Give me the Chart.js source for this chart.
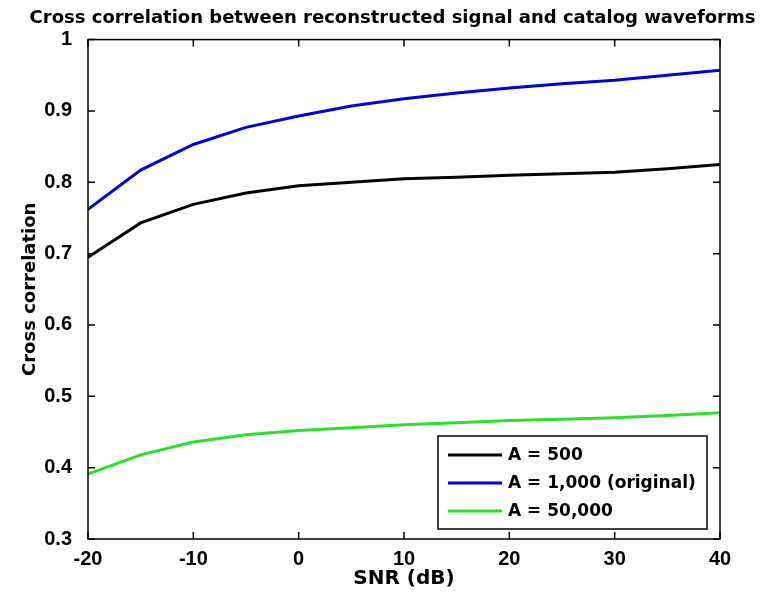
<!DOCTYPE html>
<html>
<head>
<meta charset="utf-8">
<script src="https://cdn.jsdelivr.net/npm/chart.js@4"></script>
<style>
  html, body { margin: 0; padding: 0; background: #fff; }
  #wrap { width: 777px; height: 594px; }
</style>
</head>
<body>
<div id="wrap"><canvas id="line-chart"></canvas></div>
<script>
// SNR values (x axis, dB)
const snr = [-20, -15, -10, -5, 0, 5, 10, 15, 20, 25, 30, 35, 40];

// cross correlation
const a500   = [0.695, 0.743, 0.769, 0.785, 0.795, 0.800, 0.805, 0.807, 0.810, 0.812, 0.814, 0.819, 0.825];
const a1000  = [0.762, 0.817, 0.853, 0.877, 0.893, 0.907, 0.917, 0.925, 0.932, 0.938, 0.943, 0.950, 0.957];
const a50000 = [0.391, 0.418, 0.436, 0.446, 0.452, 0.456, 0.460, 0.463, 0.466, 0.468, 0.470, 0.473, 0.477];

const seriesNames = ['A = 500', 'A = 1,000 (original)', 'A = 50,000'];

const xTicks = [-20, -10, 0, 10, 20, 30, 40];
const yTicks = [0.3, 0.4, 0.5, 0.6, 0.7, 0.8, 0.9, 1];

function pts(ys) {
    return snr.map((x, i) => ({ x: x, y: ys[i] }));
}

// box around plot + inward ticks on all four sides (matlab look)
const boxPlugin = {
    id: 'boxTicks',
    afterDatasetsDraw(chart) {
        const ctx = chart.ctx;
        const a = chart.chartArea;
        const xs = chart.scales.x, ys = chart.scales.y;
        const len = 7;
        ctx.save();
        ctx.strokeStyle = '#000';
        ctx.lineWidth = 1.5;
        ctx.strokeRect(a.left, a.top, a.right - a.left, a.bottom - a.top);
        ctx.beginPath();
        xTicks.forEach(v => {
            const px = xs.getPixelForValue(v);
            ctx.moveTo(px, a.bottom); ctx.lineTo(px, a.bottom - len);
            ctx.moveTo(px, a.top); ctx.lineTo(px, a.top + len);
        });
        yTicks.forEach(v => {
            const py = ys.getPixelForValue(v);
            ctx.moveTo(a.left, py); ctx.lineTo(a.left + len, py);
            ctx.moveTo(a.right, py); ctx.lineTo(a.right - len, py);
        });
        ctx.stroke();
        ctx.restore();
    }
};

// legend box in lower right corner of the plot
const boxLegend = {
    id: 'boxLegend',
    afterDraw(chart) {
        const ctx = chart.ctx;
        const a = chart.chartArea;
        const w = 269, h = 93;
        const x0 = a.right - 13 - w, y0 = a.bottom - 10 - h;
        ctx.save();
        ctx.fillStyle = '#fff';
        ctx.fillRect(x0, y0, w, h);
        ctx.strokeStyle = '#000';
        ctx.lineWidth = 1.5;
        ctx.strokeRect(x0, y0, w, h);
        ctx.font = 'bold 17px "DejaVu Sans"';
        ctx.textBaseline = 'middle';
        chart.data.datasets.forEach((ds, i) => {
            const cy = y0 + 19 + i * 28;
            ctx.strokeStyle = ds.borderColor;
            ctx.lineWidth = 3;
            ctx.beginPath();
            ctx.moveTo(x0 + 10, cy);
            ctx.lineTo(x0 + 64, cy);
            ctx.stroke();
            ctx.fillStyle = '#000';
            ctx.fillText(ds.label, x0 + 70, cy + 1);
        });
        ctx.restore();
    }
};

const tickFont = { family: '"Liberation Sans", Arial, sans-serif', size: 20, weight: 'bold' };

new Chart(document.getElementById('line-chart'), {
    type: 'line',
    data: {
        datasets: [
            { label: seriesNames[0], data: pts(a500),   borderColor: '#000000' },
            { label: seriesNames[1], data: pts(a1000),  borderColor: 'rgb(0,0,225)' },
            { label: seriesNames[2], data: pts(a50000), borderColor: 'rgb(40,225,40)' }
        ]
    },
    options: {
        responsive: true,
        maintainAspectRatio: false,
        animation: false,
        layout: { padding: { left: 8, right: 0, top: 0, bottom: 0 } },
        elements: {
            line: { borderWidth: 3, tension: 0, fill: false },
            point: { radius: 0 }
        },
        scales: {
            x: {
                type: 'linear',
                min: -20,
                max: 40,
                afterBuildTicks: s => { s.ticks = xTicks.map(v => ({ value: v })); },
                afterFit: s => { s.height = 55; },
                ticks: { font: tickFont, color: '#000', padding: 0, maxRotation: 0 },
                grid: { display: false },
                border: { display: false },
                title: {
                    display: true,
                    text: 'SNR (dB)',
                    color: '#000',
                    font: { family: '"DejaVu Sans"', size: 20, weight: 'bold' },
                    padding: { top: 0, bottom: 3 }
                }
            },
            y: {
                min: 0.3,
                max: 1,
                afterBuildTicks: s => { s.ticks = yTicks.map(v => ({ value: v })); },
                afterFit: s => { s.width = 80; },
                ticks: {
                    font: tickFont,
                    color: '#000',
                    padding: 8,
                    callback: v => String(+v.toFixed(1))
                },
                grid: { display: false },
                border: { display: false },
                title: {
                    display: true,
                    text: 'Cross correlation',
                    color: '#000',
                    font: { family: '"DejaVu Sans"', size: 18, weight: 'bold' },
                    padding: { top: 12, bottom: 0 }
                }
            },
            // empty right axis, only keeps room on the right of the plot
            yRight: {
                position: 'right',
                min: 0.3,
                max: 1,
                afterFit: s => { s.width = 57; },
                ticks: { display: false },
                grid: { display: false },
                border: { display: false }
            }
        },
        plugins: {
            legend: { display: false },
            tooltip: { enabled: false },
            title: {
                display: true,
                text: 'Cross correlation between reconstructed signal and catalog waveforms',
                color: '#000',
                font: { family: '"DejaVu Sans"', size: 18, weight: 'bold' },
                padding: { top: 8, bottom: 10 }
            }
        }
    },
    plugins: [boxPlugin, boxLegend]
});
</script>
</body>
</html>
